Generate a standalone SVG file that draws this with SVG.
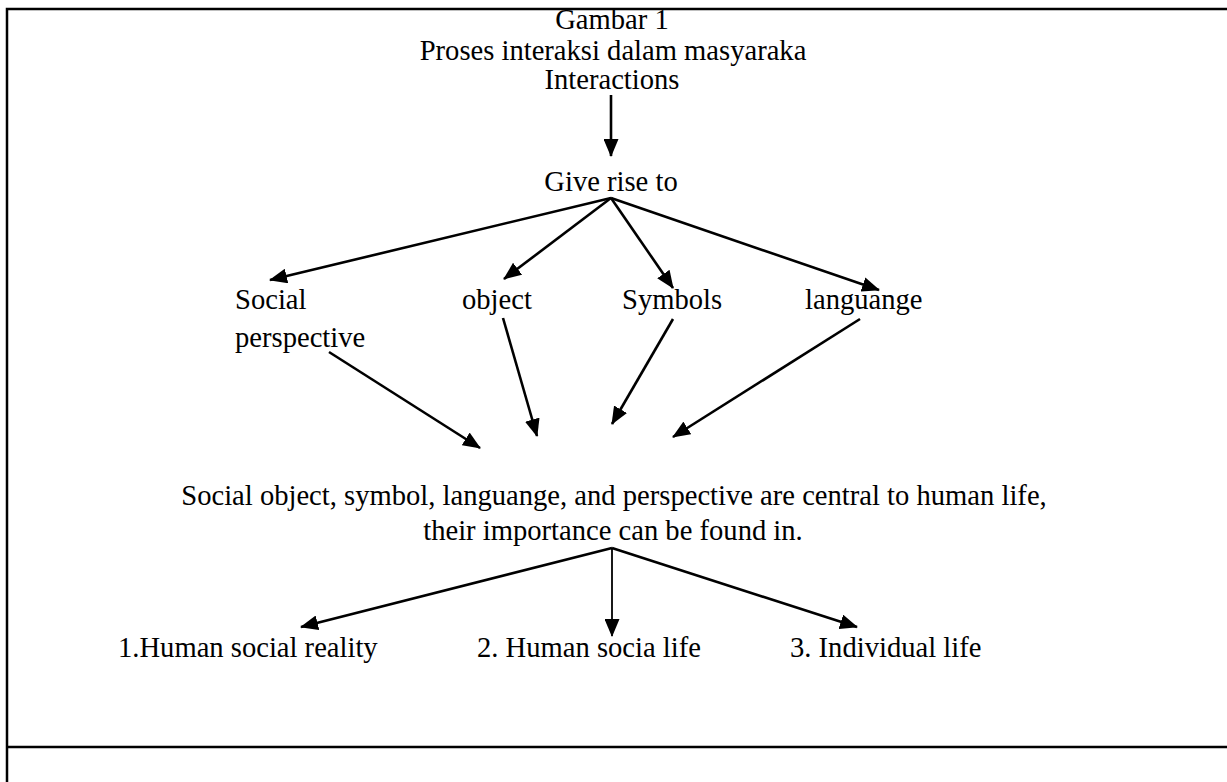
<svg xmlns="http://www.w3.org/2000/svg" width="1227" height="782" viewBox="0 0 1227 782">
<style>
text{font-family:"Liberation Serif","Times New Roman",serif;font-size:28.6px;fill:#000}
.c{text-anchor:middle}
.ln{stroke:#000;stroke-width:2.6;fill:none;marker-end:url(#ah)}
.thin{stroke-width:1.8}
.bd{stroke:#000;stroke-width:2.5;fill:none}
</style>
<defs>
<marker id="ah" viewBox="0 0 18 15" refX="17" refY="7.5" markerWidth="18" markerHeight="15" markerUnits="userSpaceOnUse" orient="auto">
<path d="M0,0 L18,7.5 L0,15 z" fill="#000"/>
</marker>
</defs>
<rect width="1227" height="782" fill="#fff"/>
<g id="frame">
<path class="bd" d="M7,782 V9 H1227"/>
<path class="bd" d="M7,747 H1227"/>
</g>
<g id="title">
<text class="c" x="612" y="29">Gambar 1</text>
<text class="c" x="613" y="60">Proses interaksi dalam masyaraka</text>
</g>
<g id="n-interactions"><text class="c" x="612" y="89">Interactions</text></g>
<g id="n-giverise"><text class="c" x="611" y="191">Give rise to</text></g>
<g id="n-social"><text x="235" y="309">Social</text><text x="235" y="347">perspective</text></g>
<g id="n-object"><text x="462" y="309">object</text></g>
<g id="n-symbols"><text x="622" y="309">Symbols</text></g>
<g id="n-languange"><text x="805" y="309">languange</text></g>
<g id="n-central">
<text class="c" x="614" y="505">Social object, symbol, languange, and perspective are central to human life,</text>
<text class="c" x="613" y="540">their importance can be found in.</text>
</g>
<g id="n-1"><text x="118" y="657">1.Human social reality</text></g>
<g id="n-2"><text x="477" y="657">2. Human socia life</text></g>
<g id="n-3"><text x="790" y="657">3. Individual life</text></g>
<g id="connectors">
<line class="ln" x1="611" y1="95" x2="611" y2="156"/>
<line class="ln" x1="611" y1="198" x2="270" y2="280"/>
<line class="ln" x1="611" y1="198" x2="504" y2="279"/>
<line class="ln" x1="611" y1="198" x2="673" y2="288"/>
<line class="ln" x1="611" y1="198" x2="879" y2="290"/>
<line class="ln" x1="329" y1="352" x2="480" y2="448"/>
<line class="ln" x1="503" y1="318" x2="537" y2="436"/>
<line class="ln" x1="673" y1="319" x2="612" y2="424"/>
<line class="ln" x1="860" y1="319" x2="673" y2="437"/>
<line class="ln" x1="612" y1="548" x2="301" y2="627"/>
<line class="ln thin" x1="612" y1="548" x2="612" y2="636"/>
<line class="ln" x1="612" y1="548" x2="857" y2="627"/>
</g>
</svg>
